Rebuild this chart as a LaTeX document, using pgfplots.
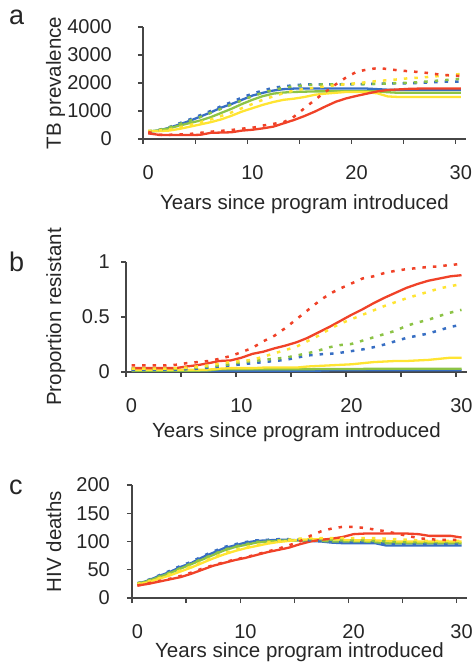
\documentclass[border=0pt]{standalone}
\usepackage{fontspec}
\setmainfont{Liberation Sans}
\usepackage{pgfplots}
\pgfplotsset{compat=1.18}
\definecolor{cred}{RGB}{240,66,40}
\definecolor{cyel}{RGB}{255,228,50}
\definecolor{cgrn}{RGB}{140,195,70}
\definecolor{cblu}{RGB}{55,110,195}
\definecolor{axgray}{RGB}{70,70,70}
\pgfplotsset{
 panel/.style={
  scale only axis,
  axis x line*=bottom, axis y line*=left,
  axis line style={draw=axgray, line width=1.1pt},
  every tick/.style={draw=axgray, line width=1.1pt},
  tick align=outside,
  major tick length=5pt,
  xmin=-0.5, xmax=30.5,
  xtick={-0.5,4.5,...,29.5},
  xticklabels={},
  extra x ticks={0,10,20,30},
  extra x tick labels={0,10,20,30},
  extra x tick style={major tick length=0pt},
  xticklabel style={anchor=base, yshift=-41pt},
  ticklabel style={font=\fontsize{20}{24}\selectfont, text=black!85},
  yticklabel style={anchor=east, inner sep=0pt},
  label style={font=\fontsize{20.5}{24}\selectfont, text=black!85},
  xlabel={Years since program introduced},
  clip=false,
 },
 sol/.style={line width=2.3pt, no marks},
 dot/.style={line width=2.5pt, no marks, dash pattern=on 3.5pt off 7pt},
}
\begin{document}
\begin{tikzpicture}
\path[use as bounding box] (0pt,0pt) rectangle (474pt,669pt);
% ---------------- panel a
\begin{axis}[panel, at={(143pt,530pt)}, anchor=south west, width=323pt, height=112pt,
  ymin=0, ymax=4000, ytick={0,1000,2000,3000,4000}, yticklabels={0,1000,2000,3000,4000},
  yticklabel style={xshift=-26pt},
  xlabel style={at={(axis description cs:0.5,0)}, anchor=base, yshift=-71pt},
  ylabel={TB prevalence}, ylabel style={at={(axis description cs:-0.2539,0.5)}, anchor=base}]
\addplot[sol, cblu] table[x expr=\coordindex, y index=0] {
250
300
400
520
650
800
950
1120
1250
1400
1550
1650
1730
1780
1800
1800
1800
1800
1800
1800
1800
1800
1780
1760
1750
1750
1750
1750
1750
1750
1750
};
\addplot[sol, cgrn] table[x expr=\coordindex, y index=0] {
270
310
380
480
570
660
780
930
1080
1250
1400
1530
1620
1660
1680
1690
1700
1700
1700
1700
1700
1700
1700
1670
1650
1650
1650
1650
1650
1650
1650
};
\addplot[sol, cyel] table[x expr=\coordindex, y index=0] {
280
280
300
360
440
520
600
700
830
980
1100
1220
1320
1400
1440
1500
1580
1620
1650
1680
1680
1670
1630
1520
1500
1500
1500
1500
1500
1500
1500
};
\addplot[sol, cred] table[x expr=\coordindex, y index=0] {
200
150
140
140
140
150
220
230
240
300
330
380
440
560
680
820
980
1160
1330
1450
1540
1620
1700
1750
1770
1790
1800
1800
1800
1800
1800
};
\addplot[dot, cblu] table[x expr=\coordindex, y index=0] {
260
320
420
560
700
850
1000
1170
1320
1480
1620
1730
1830
1880
1920
1950
1950
1950
1950
1960
1960
1960
1970
1980
1990
1990
2000
2020
2040
2050
2050
};
\addplot[dot, cgrn] table[x expr=\coordindex, y index=0] {
280
320
410
530
650
780
930
1080
1230
1380
1530
1650
1750
1830
1880
1920
1940
1950
1950
1950
1960
1960
1970
1980
2000
2010
2030
2060
2090
2120
2150
};
\addplot[dot, cyel] table[x expr=\coordindex, y index=0] {
290
300
340
420
500
600
700
820
950
1100
1250
1400
1520
1640
1730
1790
1830
1880
1920
1960
1990
2030
2070
2100
2130
2170
2190
2220
2250
2290
2320
};
\addplot[dot, cred] table[x expr=\coordindex, y index=0] {
250
150
150
160
180
220
260
290
320
370
400
480
540
600
800
1100
1400
1680
1950
2200
2400
2480
2530
2500
2450
2420
2390
2350
2300
2270
2250
};
\end{axis}
% ---------------- panel b
\begin{axis}[panel, at={(126pt,297pt)}, anchor=south west, width=341pt, height=110pt,
  ymin=0, ymax=1, ytick={0,0.5,1}, yticklabels={0,0.5,1},
  yticklabel style={xshift=-11pt},
  xlabel style={at={(axis description cs:0.5,0)}, anchor=base, yshift=-66pt},
  ylabel={Proportion resistant}, ylabel style={at={(axis description cs:-0.1906,0.5)}, anchor=base}]
\addplot[sol, cblu] table[x expr=\coordindex, y index=0] {
0.01
0.01
0.01
0.01
0.01
0.01
0.01
0.01
0.01
0.01
0.01
0.01
0.01
0.01
0.01
0.01
0.01
0.012
0.015
0.015
0.015
0.015
0.015
0.015
0.015
0.015
0.015
0.015
0.015
0.015
0.015
};
\addplot[sol, cgrn] table[x expr=\coordindex, y index=0] {
0.012
0.012
0.012
0.012
0.012
0.012
0.012
0.015
0.025
0.025
0.025
0.025
0.025
0.025
0.025
0.025
0.025
0.027
0.028
0.028
0.028
0.028
0.03
0.03
0.03
0.03
0.03
0.03
0.03
0.03
0.03
};
\addplot[sol, cyel] table[x expr=\coordindex, y index=0] {
0.02
0.02
0.02
0.02
0.02
0.02
0.02
0.022
0.03
0.035
0.035
0.035
0.04
0.04
0.04
0.04
0.05
0.055
0.06
0.065
0.07
0.08
0.09
0.095
0.1
0.1
0.105
0.11
0.12
0.13
0.13
};
\addplot[sol, cred] table[x expr=\coordindex, y index=0] {
0.035
0.035
0.035
0.035
0.035
0.05
0.062
0.08
0.1
0.105
0.13
0.165
0.185
0.215
0.24
0.27
0.31
0.36
0.41
0.465
0.52
0.57
0.625
0.675
0.72
0.765
0.80
0.83
0.85
0.87
0.88
};
\addplot[dot, cblu] table[x expr=\coordindex, y index=0] {
0.02
0.02
0.02
0.02
0.02
0.025
0.03
0.04
0.05
0.06
0.07
0.08
0.09
0.1
0.11
0.13
0.15
0.16
0.165
0.175
0.19
0.205
0.225
0.25
0.28
0.31
0.33
0.35
0.38
0.41
0.43
};
\addplot[dot, cgrn] table[x expr=\coordindex, y index=0] {
0.03
0.03
0.03
0.03
0.03
0.035
0.04
0.05
0.06
0.07
0.09
0.1
0.11
0.12
0.13
0.15
0.17
0.195
0.225
0.245
0.255
0.285
0.315
0.345
0.375
0.42
0.45
0.475
0.51
0.54
0.565
};
\addplot[dot, cyel] table[x expr=\coordindex, y index=0] {
0.03
0.03
0.03
0.03
0.035
0.04
0.05
0.06
0.075
0.09
0.1
0.11
0.14
0.17
0.2
0.23
0.28
0.33
0.39
0.44
0.48
0.52
0.56
0.6
0.635
0.67
0.7
0.73
0.76
0.78
0.8
};
\addplot[dot, cred] table[x expr=\coordindex, y index=0] {
0.06
0.06
0.06
0.06
0.065
0.08
0.09
0.1
0.12
0.145
0.18
0.22
0.28
0.33
0.40
0.48
0.56
0.64
0.71
0.76
0.805
0.85
0.87
0.90
0.92
0.935
0.945
0.955
0.96
0.975
0.98
};
\end{axis}
% ---------------- panel c
\begin{axis}[panel, at={(132pt,71pt)}, anchor=south west, width=335pt, height=113pt,
  ymin=0, ymax=200, ytick={0,50,100,150,200}, yticklabels={0,50,100,150,200},
  yticklabel style={xshift=-17pt},
  xlabel style={at={(axis description cs:0.5,0)}, anchor=base, yshift=-59pt},
  ylabel={HIV deaths}, ylabel style={at={(axis description cs:-0.2119,0.5)}, anchor=base}]
\addplot[sol, cblu] table[x expr=\coordindex, y index=0] {
25
31
39
46
55
62
72
80
88
93
98
101
102
103
103
102
101
100
98
97
97
97
97
93
93
93
93
93
93
93
93
};
\addplot[sol, cgrn] table[x expr=\coordindex, y index=0] {
25
30
37
44
52
60
68
76
84
90
94
98
100
101
102
102
102
101
100
100
100
100
99
97
97
97
97
97
97
97
97
};
\addplot[sol, cyel] table[x expr=\coordindex, y index=0] {
24
28
34
40
47
54
62
70
77
83
88
92
96
99
101
103
104
104
104
103
102
102
102
101
100
100
100
100
100
100
100
};
\addplot[sol, cred] table[x expr=\coordindex, y index=0] {
22
25
29
33
37
43
50
57
62
67
71
76
81
85
89
95
100
103
105
108
113
114
114
114
114
114
113
110
110
110
107
};
\addplot[dot, cblu] table[x expr=\coordindex, y index=0] {
26
32
40
48
57
64
74
82
90
95
99
102
103
104
104
103
102
101
100
99
99
99
98
96
95
95
95
95
95
95
95
};
\addplot[dot, cgrn] table[x expr=\coordindex, y index=0] {
26
31
38
45
53
61
69
77
85
91
95
99
101
102
103
104
104
104
103
102
102
102
101
100
99
99
99
99
99
99
99
};
\addplot[dot, cyel] table[x expr=\coordindex, y index=0] {
25
29
35
42
49
56
64
72
79
85
90
94
98
101
103
105
106
106
106
106
106
106
106
105
104
103
102
101
101
101
101
};
\addplot[dot, cred] table[x expr=\coordindex, y index=0] {
22
26
30
34
39
45
52
58
63
68
72
77
82
87
93
100
110
118
123
126
126
124
121
118
114
110
106
104
103
103
103
};
\end{axis}
% panel letters
\node[anchor=base west, inner sep=0pt, font=\fontsize{27}{30}\selectfont, text=black!85] at (9pt,644pt) {a};
\node[anchor=base west, inner sep=0pt, font=\fontsize{27}{30}\selectfont, text=black!85] at (9pt,397pt) {b};
\node[anchor=base west, inner sep=0pt, font=\fontsize{27}{30}\selectfont, text=black!85] at (9pt,174pt) {c};
\end{tikzpicture}
\end{document}
